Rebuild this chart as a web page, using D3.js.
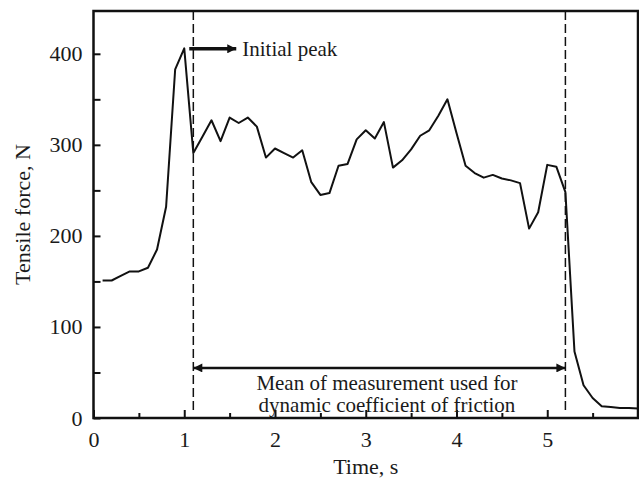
<!DOCTYPE html>
<html>
<head>
<meta charset="utf-8">
<script src="https://cdn.jsdelivr.net/npm/d3@7"></script>
<style>
  body { margin: 0; background: #fff; }
  svg text { font-family: "Liberation Serif", "Times New Roman", serif; fill: #1a1a1a; }
</style>
</head>
<body>
<script>
// Dados (tempo em s, força em N)
var timeValues = [0.1, 0.2, 0.3, 0.4, 0.5, 0.6, 0.7, 0.8, 0.9, 1.0,
                  1.1, 1.2, 1.3, 1.4, 1.5, 1.6, 1.7, 1.8, 1.9, 2.0,
                  2.1, 2.2, 2.3, 2.4, 2.5, 2.6, 2.7, 2.8, 2.9, 3.0,
                  3.1, 3.2, 3.3, 3.4, 3.5, 3.6, 3.7, 3.8, 3.9, 4.0,
                  4.1, 4.2, 4.3, 4.4, 4.5, 4.6, 4.7, 4.8, 4.9, 5.0,
                  5.1, 5.2, 5.3, 5.4, 5.5, 5.6, 5.7, 5.8, 5.9, 6.0];
var forceValues = [151, 151, 156, 161, 161, 165, 185, 232, 383, 406,
                   291, 309, 327, 304, 330, 324, 330, 320, 286, 296,
                   291, 286, 294, 259, 245, 247, 277, 279, 306, 316,
                   307, 325, 275, 283, 295, 310, 316, 332, 350, 313,
                   277, 269, 264, 267, 263, 261, 258, 208, 226, 278,
                   276, 248, 73, 36, 22, 13, 12, 11, 11, 10.5];

var xTicks = [0, 1, 2, 3, 4, 5];
var xMinorTicks = [0.5, 1.5, 2.5, 3.5, 4.5, 5.5];
var yTicks = [0, 100, 200, 300, 400];
var yMinorTicks = [50, 150, 250, 350];

// Janela de medição (linhas tracejadas) e textos
var windowStart = 1.1;
var windowEnd = 5.2;
var windowArrowForce = 55;
var peakTime = 1.0;
var peakLabel = "Initial peak";
var windowLabel = ["Mean of measurement used for", "dynamic coefficient of friction"];
var xTitle = "Time, s";
var yTitle = "Tensile force, N";

// "top" é do window, por isso os nomes plot*
var width = 639, height = 478;
var plotLeft = 93.5, plotRight = 638, plotTop = 11, plotBottom = 418;

var svg = d3.select("body").append("svg").attr("width", width).attr("height", height);

var x = d3.scaleLinear().domain([0, 6]).range([plotLeft, plotRight]);
var y = d3.scaleLinear().domain([0, 447]).range([plotBottom, plotTop]);

// setas
var defs = svg.append("defs");
defs.append("marker").attr("id", "headEnd").attr("viewBox", "0 0 10 10").attr("refX", 10).attr("refY", 5)
    .attr("markerWidth", 15).attr("markerHeight", 9).attr("markerUnits", "userSpaceOnUse").attr("orient", "auto")
    .append("path").attr("d", "M0,0 L10,5 L0,10 Z").attr("fill", "#111");
defs.append("marker").attr("id", "headStart").attr("viewBox", "0 0 10 10").attr("refX", 0).attr("refY", 5)
    .attr("markerWidth", 15).attr("markerHeight", 9).attr("markerUnits", "userSpaceOnUse").attr("orient", "auto")
    .append("path").attr("d", "M10,0 L0,5 L10,10 Z").attr("fill", "#111");

// eixos com marcas para dentro
var xAxis = svg.append("g").attr("transform", "translate(0," + plotBottom + ")")
    .call(d3.axisBottom(x).tickValues(xTicks).tickSize(-8).tickPadding(13).tickFormat(d3.format("d")));
var xAxisMinor = svg.append("g").attr("transform", "translate(0," + plotBottom + ")")
    .call(d3.axisBottom(x).tickValues(xMinorTicks).tickSize(-5).tickFormat(""));
var yAxis = svg.append("g").attr("transform", "translate(" + plotLeft + ",0)")
    .call(d3.axisLeft(y).tickValues(yTicks).tickSize(-7).tickPadding(11).tickFormat(d3.format("d")));
var yAxisMinor = svg.append("g").attr("transform", "translate(" + plotLeft + ",0)")
    .call(d3.axisLeft(y).tickValues(yMinorTicks).tickSize(-7).tickFormat(""));

[xAxis, xAxisMinor, yAxis, yAxisMinor].forEach(function(g) {
    g.select(".domain").remove();
    g.selectAll(".tick line").attr("stroke", "#111").attr("stroke-width", 2);
    g.selectAll("text").attr("font-size", 22).attr("font-family", "Liberation Serif").attr("fill", "#1a1a1a");
});

// moldura
svg.append("rect").attr("x", plotLeft).attr("y", plotTop)
    .attr("width", plotRight - plotLeft).attr("height", plotBottom - plotTop)
    .attr("fill", "none").attr("stroke", "#111").attr("stroke-width", 2.5);

// títulos dos eixos
svg.append("text").attr("x", (plotLeft + plotRight) / 2).attr("y", 474).attr("text-anchor", "middle")
    .attr("font-size", 22).text(xTitle);
svg.append("text").attr("transform", "translate(30," + (plotTop + plotBottom) / 2 + ") rotate(-90)")
    .attr("text-anchor", "middle").attr("font-size", 22).text(yTitle);

// linhas tracejadas
svg.selectAll("line.window").data([windowStart, windowEnd]).enter().append("line")
    .attr("class", "window")
    .attr("x1", function(d) { return x(d); }).attr("x2", function(d) { return x(d); })
    .attr("y1", plotTop).attr("y2", 410)
    .attr("stroke", "#111").attr("stroke-width", 1.5).attr("stroke-dasharray", "9,4");

// curva da força
var line = d3.line().x(function(d, i) { return x(timeValues[i]); }).y(function(d) { return y(d); });
svg.append("path").datum(forceValues).attr("d", line)
    .attr("fill", "none").attr("stroke", "#111").attr("stroke-width", 2).attr("stroke-linejoin", "round");

// seta do pico inicial
var peakY = y(d3.max(forceValues)) + 0.5;
svg.append("line").attr("x1", x(peakTime) + 5).attr("x2", x(peakTime) + 52)
    .attr("y1", peakY).attr("y2", peakY)
    .attr("stroke", "#111").attr("stroke-width", 3.5).attr("marker-end", "url(#headEnd)");
svg.append("text").attr("x", x(peakTime) + 58).attr("y", peakY + 7).attr("font-size", 21).text(peakLabel);

// seta dupla da janela de medição
svg.append("line").attr("x1", x(windowStart)).attr("x2", x(windowEnd))
    .attr("y1", y(windowArrowForce)).attr("y2", y(windowArrowForce))
    .attr("stroke", "#111").attr("stroke-width", 2.5)
    .attr("marker-start", "url(#headStart)").attr("marker-end", "url(#headEnd)");
svg.selectAll("text.window").data(windowLabel).enter().append("text")
    .attr("class", "window")
    .attr("x", 387).attr("y", function(d, i) { return 390 + i * 22; })
    .attr("text-anchor", "middle").attr("font-size", 21).text(function(d) { return d; });
</script>
</body>
</html>
